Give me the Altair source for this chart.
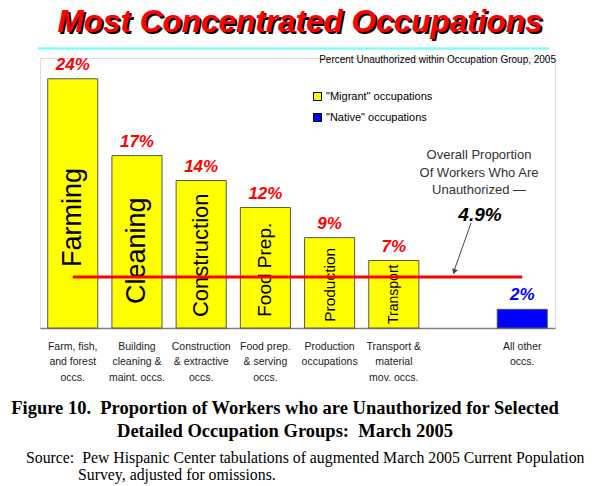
import altair as alt
import pandas as pd

SANS = "Liberation Sans"
SERIF = "Liberation Serif"
NB = "\u00a0"

# ---- data ----
categories = [
    "Farm, fish,|and forest|occs.",
    "Building|cleaning &|maint. occs.",
    "Construction|& extractive|occs.",
    "Food prep.|& serving|occs.",
    "Production|occupations",
    "Transport &|material|mov. occs.",
    "All other|occs.",
]
short_names = ["Farming", "Cleaning", "Construction", "Food Prep.", "Production", "Transport", ""]
values = [24.0, 16.6, 14.2, 11.6, 8.7, 6.5, 1.8]
value_labels = ["24%", "17%", "14%", "12%", "9%", "7%", "2%"]
groups = ['"Migrant" occupations', '"Migrant" occupations', '"Migrant" occupations',
          '"Migrant" occupations', '"Migrant" occupations', '"Migrant" occupations',
          '"Native" occupations']
group_names = ['"Migrant" occupations', '"Native" occupations']
overall = 4.9

title_text = "Most Concentrated Occupations"
subtitle_text = "Percent Unauthorized within Occupation Group, 2005"
note_text = "Overall Proportion\nOf Workers Who Are\nUnauthorized \u2014"
note_value = "4.9%"
caption_text = ("Figure 10." + NB + NB + "Proportion of Workers who are Unauthorized for Selected\n"
                "Detailed Occupation Groups:" + NB + NB + "March 2005")
source_lines = ["Source:" + NB + NB + "Pew Hispanic Center tabulations of augmented March 2005 Current Population",
                "Survey, adjusted for omissions."]

df = pd.DataFrame({"category": categories, "short": short_names, "value": values,
                   "label": value_labels, "group": groups})

x_domain = categories[:6] + [" "] + categories[6:]

xscale = alt.Scale(domain=x_domain, paddingInner=0.22, paddingOuter=0.12)
xaxis = alt.Axis(title=None, labelAngle=0, ticks=False, tickSize=0, labelPadding=13,
                 labelExpr="split(datum.label, '|')", labelFont=SANS, labelFontSize=10.5,
                 labelColor="#222", labelLineHeight=15.5, labelLimit=0,
                 domainColor="#808080", domainWidth=1.5, grid=False, labelOverlap=False)
yscale = alt.Scale(domain=[0, 26], nice=False, zero=True)

X = alt.X("category:N", scale=xscale, axis=xaxis, sort=x_domain)

bars = alt.Chart(df).mark_bar(stroke="#555", strokeWidth=1).encode(
    x=X,
    y=alt.Y("value:Q", scale=yscale, axis=None),
    color=alt.Color("group:N", scale=alt.Scale(domain=group_names, range=["#FFFF00", "#0000FF"]),
                    legend=alt.Legend(title=None, orient="none", legendX=272, legendY=33,
                                      symbolType="square", symbolSize=64, symbolStrokeColor="black",
                                      symbolStrokeWidth=1, symbolOpacity=1, labelFont=SANS,
                                      labelFontSize=11, labelColor="black", rowPadding=8,
                                      labelOffset=3, padding=0)),
)

# font size and downward shift (screen px) of the rotated in-bar names
inner_style = {"Farming": (27, 14), "Cleaning": (27, 9), "Construction": (22, 1),
               "Food Prep.": (19, 2), "Production": (15.5, 2), "Transport": (14, 0)}
inner_layers = []
for name, (fs, shift) in inner_style.items():
    inner_layers.append(
        alt.Chart(df).transform_filter(alt.datum.short == name)
        .transform_calculate(mid="datum.value / 2")
        .mark_text(angle=270, fontSize=fs, dx=-shift, font=SANS, color="black",
                   align="center", baseline="middle")
        .encode(x=X, y=alt.Y("mid:Q", scale=yscale, axis=None), text="short:N")
    )

line_df = pd.DataFrame({"start": [categories[0]], "end": [categories[-1]], "overall": [overall]})
red_line = alt.Chart(line_df).mark_rule(color="#FF0000", strokeWidth=3).encode(
    x=alt.X("start:N", scale=xscale, axis=xaxis, sort=x_domain),
    x2="end:N",
    y=alt.Y("overall:Q", scale=yscale, axis=None),
)

value_text = alt.Chart(df).mark_text(font=SANS, fontSize=17, fontWeight="bold", fontStyle="italic",
                                     dy=-9, baseline="alphabetic", align="center").encode(
    x=X,
    y=alt.Y("value:Q", scale=yscale, axis=None),
    text="label:N",
    color=alt.condition(alt.datum.group == group_names[1], alt.value("#0000FF"), alt.value("#FF0000")),
)

# ---- annotations ----
tdf = pd.DataFrame({"t": [title_text]})
title_shadow = alt.Chart(tdf).mark_text(font=SANS, fontSize=31.5, fontWeight="bold", fontStyle="italic",
                                        color="black", align="center", baseline="middle").encode(
    x=alt.value(262), y=alt.value(-33), text="t:N")
title_main = alt.Chart(tdf).mark_text(font=SANS, fontSize=31.5, fontWeight="bold", fontStyle="italic",
                                      color="#FF0000", align="center", baseline="middle").encode(
    x=alt.value(260), y=alt.value(-35), text="t:N")

cyan = alt.Chart(tdf).mark_rule(color="#7FFFFF", strokeWidth=2.5).encode(
    x=alt.value(-2), x2=alt.value(509), y=alt.value(-9.5))

sub = alt.Chart(pd.DataFrame({"t": [subtitle_text]})).mark_text(
    font=SANS, fontSize=10, color="black", align="right", baseline="middle").encode(
    x=alt.value(516), y=alt.value(2), text="t:N")

note = alt.Chart(pd.DataFrame({"t": [note_text]})).mark_text(
    font=SANS, fontSize=13, color="#333", align="center", baseline="top", lineBreak="\n",
    lineHeight=17.5).encode(x=alt.value(439), y=alt.value(91), text="t:N")

note_val = alt.Chart(pd.DataFrame({"t": [note_value]})).mark_text(
    font=SANS, fontSize=19, fontWeight="bold", fontStyle="italic", color="black",
    align="center", baseline="middle").encode(x=alt.value(440), y=alt.value(157), text="t:N")

arrow_line = alt.Chart(tdf).mark_rule(color="#444", strokeWidth=1).encode(
    x=alt.value(431), y=alt.value(165), x2=alt.value(414), y2=alt.value(213))
arrow_head = alt.Chart(tdf).mark_point(shape="triangle-down", filled=True, size=36, angle=19,
                                       color="#444", opacity=1).encode(
    x=alt.value(414.2), y=alt.value(213.8))

caption = alt.Chart(pd.DataFrame({"t": [caption_text]})).mark_text(
    font=SERIF, fontSize=18.5, fontWeight="bold", color="black", align="center", baseline="top",
    lineBreak="\n", lineHeight=23).encode(x=alt.value(245), y=alt.value(340.5), text="t:N")

src1 = alt.Chart(pd.DataFrame({"t": [source_lines[0]]})).mark_text(
    font=SERIF, fontSize=15.8, color="black", align="left", baseline="middle").encode(
    x=alt.value(-14), y=alt.value(400), text="t:N")
src2 = alt.Chart(pd.DataFrame({"t": [source_lines[1]]})).mark_text(
    font=SERIF, fontSize=15.8, color="black", align="left", baseline="middle").encode(
    x=alt.value(38), y=alt.value(417), text="t:N")

chart = alt.layer(
    bars, *inner_layers, red_line, value_text,
    title_shadow, title_main, cyan, sub, note, note_val, arrow_line, arrow_head,
    caption, src1, src2,
).properties(
    width=515, height=270,
    autosize=alt.AutoSizeParams(type="none"),
    padding={"left": 32, "top": 50, "right": 37, "bottom": 156},
).configure_view(strokeWidth=0).configure(background="white")

chart.save("out.html", embed_options={"renderer": "svg", "actions": False})
